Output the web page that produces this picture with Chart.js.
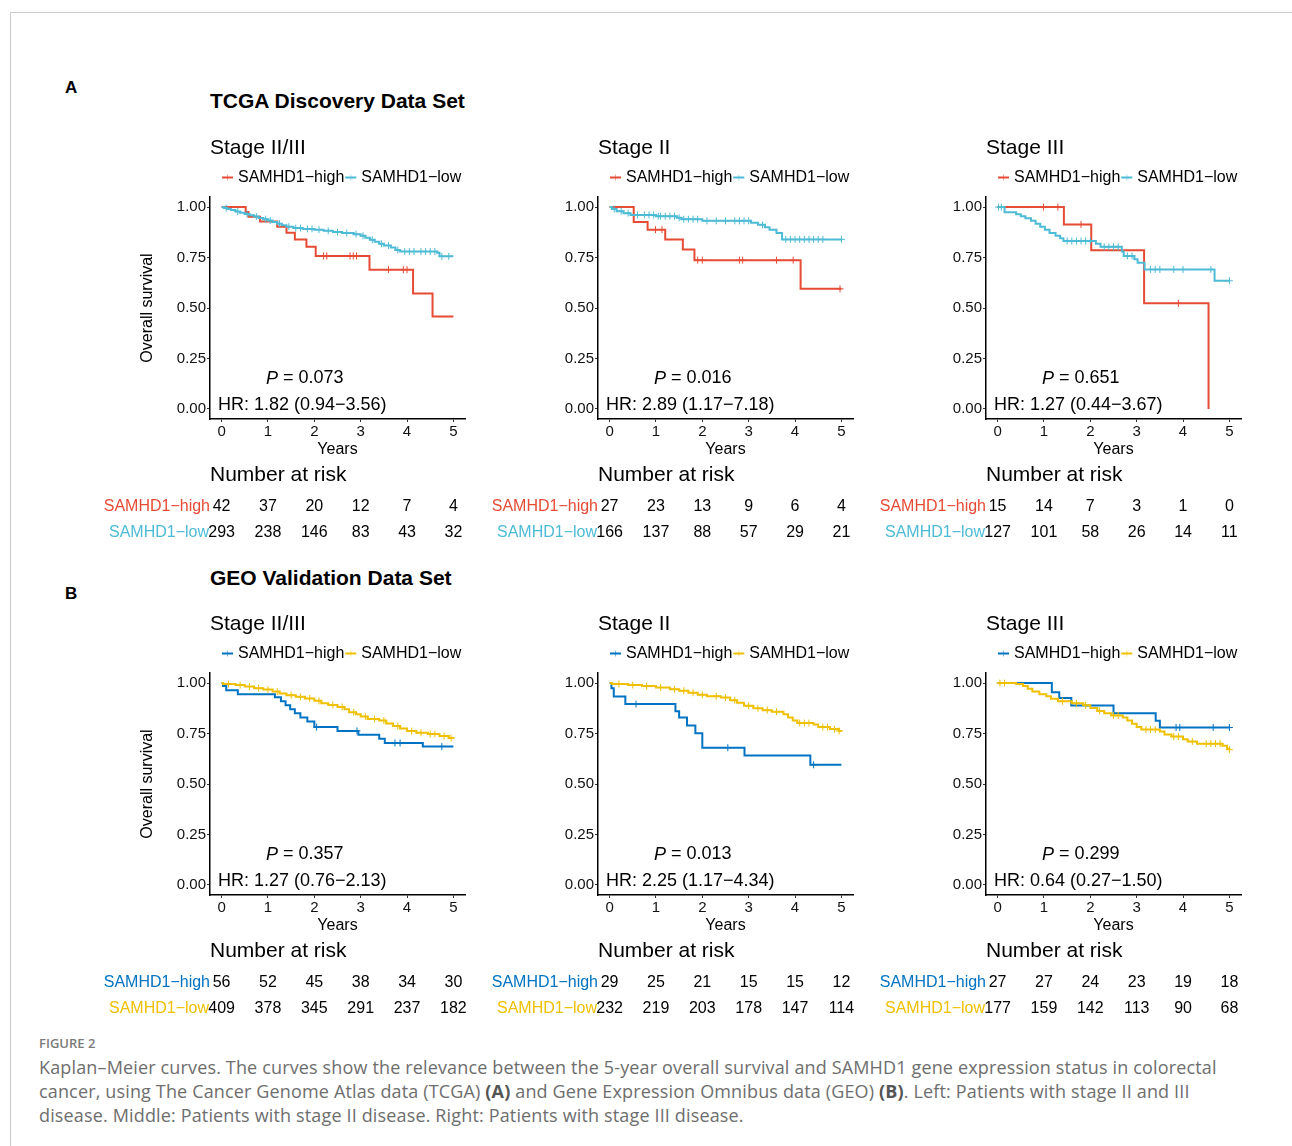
<!DOCTYPE html>
<html>
<head>
<meta charset="utf-8">
<script src="https://cdn.jsdelivr.net/npm/chart.js@4.4.1/dist/chart.umd.min.js"></script>
<style>
  body { margin: 0; background: #fff; font-family: "Liberation Sans", Arial, sans-serif; }
  #frame { position: absolute; left: 10px; top: 12px; width: 1300px; height: 1150px;
           border-left: 1px solid #ccc; border-top: 1px solid #ccc; }
  .panel { position: absolute; }
  .txt { position: absolute; white-space: nowrap; color: #000; }
  .tag { font-weight: bold; font-size: 17px; line-height: 20px; }
  .set { font-weight: bold; font-size: 21px; line-height: 24px; }
  #figno { left: 39px; top: 1035px; font-family: "Open Sans", sans-serif; font-size: 13px;
           line-height: 16px; color: #7a7a7a; font-weight: 600; }
  #caption { left: 39px; top: 1055px; font-family: "Open Sans", sans-serif; font-size: 18px;
             letter-spacing: 0.15px; line-height: 24px; color: #6e6e6e; }
  #caption b { color: #555; }
</style>
</head>
<body>
<div id="frame"></div>
<div class="txt tag" style="left:65px;top:78px">A</div>
<div class="txt set" style="left:210px;top:89px">TCGA Discovery Data Set</div>
<div class="txt tag" style="left:65px;top:584px">B</div>
<div class="txt set" style="left:210px;top:566px">GEO Validation Data Set</div>
<div class="txt" id="figno">FIGURE 2</div>
<div class="txt" id="caption">Kaplan–Meier curves. The curves show the relevance between the 5-year overall survival and SAMHD1 gene expression status in colorectal<br>cancer, using The Cancer Genome Atlas data (TCGA) <b>(A)</b> and Gene Expression Omnibus data (GEO) <b>(B)</b>. Left: Patients with stage II and III<br>disease. Middle: Patients with stage II disease. Right: Patients with stage III disease.</div>

<script>
const FONT = '"Liberation Sans", Arial, sans-serif';

// tick labels
const yearTicks = [0, 1, 2, 3, 4, 5];
const survTicks = [0, 0.25, 0.5, 0.75, 1];

// colours
const tcgaHighColor = '#E64B35';
const tcgaLowColor = '#4DBBD5';
const geoHighColor = '#0073C2';
const geoLowColor = '#EFC000';

// ---- TCGA, stage II/III ----  [years, survival]
const tcgaAllHigh = [[0,1],[0.52,0.976],[0.58,0.952],[0.83,0.928],[1.2,0.902],[1.4,0.873],[1.58,0.84],[1.83,0.803],[2.03,0.758],[3.19,0.69],[4.13,0.572],[4.55,0.458],[5,0.458]];
const tcgaAllHighCens = [2.2,2.27,2.77,2.84,2.91,3.6,3.92,4.0];
const tcgaAllLow = [[0,1],[0.05,0.995],[0.12,0.99],[0.2,0.985],[0.3,0.978],[0.4,0.972],[0.5,0.966],[0.6,0.96],[0.7,0.953],[0.8,0.946],[0.9,0.94],[1.0,0.933],[1.1,0.926],[1.2,0.918],[1.3,0.91],[1.4,0.903],[1.55,0.896],[1.75,0.892],[2.0,0.888],[2.2,0.883],[2.4,0.876],[2.6,0.872],[2.85,0.866],[3.0,0.858],[3.1,0.848],[3.2,0.838],[3.3,0.828],[3.4,0.818],[3.5,0.81],[3.65,0.8],[3.75,0.787],[3.85,0.78],[4.65,0.774],[4.7,0.756],[5,0.756]];
const tcgaAllLowCens = [0.1,0.35,0.55,0.75,0.95,1.05,1.25,1.45,1.6,1.7,1.85,1.95,2.1,2.3,2.5,2.7,2.9,3.05,3.25,3.45,3.6,3.8,3.95,4.05,4.15,4.3,4.4,4.5,4.6,4.75,4.9];
const tcgaAllRiskHigh = [42, 37, 20, 12, 7, 4];
const tcgaAllRiskLow = [293, 238, 146, 83, 43, 32];

// ---- TCGA, stage II ----
const tcgaIIHigh = [[0,1],[0.52,0.926],[0.82,0.888],[1.2,0.84],[1.58,0.79],[1.83,0.737],[4.12,0.595],[5,0.595]];
const tcgaIIHighCens = [0.99,1.13,1.9,2.0,2.8,2.87,3.6,3.96,4.97];
const tcgaIILow = [[0,1],[0.05,0.99],[0.15,0.98],[0.3,0.97],[0.45,0.961],[1.0,0.955],[1.45,0.947],[1.55,0.94],[2.0,0.932],[3.05,0.922],[3.2,0.912],[3.35,0.9],[3.45,0.888],[3.6,0.872],[3.72,0.84],[5,0.84]];
const tcgaIILowCens = [0.1,0.25,0.4,0.6,0.75,0.85,0.95,1.05,1.1,1.2,1.3,1.4,1.5,1.6,1.7,1.8,1.9,2.1,2.3,2.5,2.7,2.8,2.9,3.0,3.3,3.8,3.9,4.0,4.1,4.2,4.3,4.4,4.5,4.6,5.0];
const tcgaIIRiskHigh = [27, 23, 13, 9, 6, 4];
const tcgaIIRiskLow = [166, 137, 88, 57, 29, 21];

// ---- TCGA, stage III ----
const tcgaIIIHigh = [[0,1],[1.43,0.914],[2.02,0.786],[3.16,0.523],[4.55,0]];
const tcgaIIIHighCens = [0.99,1.3,1.8,3.9];
const tcgaIIILow = [[0,1],[0.15,0.975],[0.4,0.965],[0.5,0.955],[0.6,0.945],[0.72,0.932],[0.82,0.918],[0.92,0.903],[1.02,0.888],[1.12,0.872],[1.25,0.858],[1.35,0.845],[1.42,0.832],[2.12,0.818],[2.22,0.803],[2.68,0.78],[2.72,0.758],[2.95,0.742],[3.02,0.724],[3.17,0.691],[4.68,0.635],[5,0.635]];
const tcgaIIILowCens = [0.02,0.08,1.5,1.6,1.7,1.8,1.9,2.0,2.3,2.4,2.5,2.6,2.8,2.9,3.3,3.4,3.5,3.8,4.0,4.6,5.0];
const tcgaIIIRiskHigh = [15, 14, 7, 3, 1, 0];
const tcgaIIIRiskLow = [127, 101, 58, 26, 14, 11];

// ---- GEO, stage II/III ----
const geoAllHigh = [[0,1],[0.03,0.985],[0.1,0.965],[0.35,0.945],[1.15,0.93],[1.28,0.91],[1.38,0.89],[1.48,0.87],[1.58,0.85],[1.7,0.83],[1.85,0.81],[2.0,0.782],[2.5,0.763],[2.95,0.744],[3.4,0.724],[3.52,0.703],[4.34,0.686],[5,0.686]];
const geoAllHighCens = [2.05,2.92,3.74,3.85,4.75];
const geoAllLow = [[0,1],[0.03,0.995],[0.3,0.99],[0.5,0.983],[0.7,0.975],[0.9,0.968],[1.1,0.958],[1.25,0.948],[1.4,0.94],[1.6,0.932],[1.8,0.924],[2.0,0.912],[2.15,0.9],[2.3,0.892],[2.5,0.882],[2.65,0.87],[2.75,0.855],[2.9,0.845],[3.0,0.835],[3.15,0.822],[3.4,0.815],[3.55,0.8],[3.7,0.787],[3.85,0.775],[4.0,0.762],[4.2,0.754],[4.45,0.748],[4.7,0.738],[4.9,0.728],[5,0.725]];
const geoAllLowCens = [0.15,0.4,0.6,0.8,1.0,1.2,1.5,1.7,1.9,2.1,2.4,2.6,2.85,3.1,3.3,3.5,3.8,4.1,4.3,4.5,4.6,4.8,4.95];
const geoAllRiskHigh = [56, 52, 45, 38, 34, 30];
const geoAllRiskLow = [409, 378, 345, 291, 237, 182];

// ---- GEO, stage II ----
const geoIIHigh = [[0,1],[0.04,0.975],[0.09,0.934],[0.34,0.896],[1.42,0.86],[1.5,0.83],[1.67,0.79],[1.85,0.752],[2.0,0.68],[2.91,0.641],[4.33,0.595],[5,0.595]];
const geoIIHighCens = [0.57,2.55,4.4];
const geoIILow = [[0,1],[0.05,0.995],[0.4,0.99],[0.7,0.985],[1.0,0.978],[1.3,0.97],[1.5,0.962],[1.7,0.952],[1.9,0.942],[2.1,0.935],[2.4,0.928],[2.6,0.915],[2.75,0.902],[2.9,0.888],[3.1,0.875],[3.3,0.866],[3.5,0.858],[3.75,0.845],[3.85,0.83],[3.95,0.815],[4.05,0.802],[4.4,0.795],[4.5,0.782],[4.75,0.772],[4.95,0.763],[5,0.76]];
const geoIILowCens = [0.2,0.5,0.8,1.1,1.4,1.6,1.8,2.0,2.3,2.5,2.7,3.0,3.2,3.4,3.6,4.1,4.2,4.3,4.6,4.7,4.85,4.95];
const geoIIRiskHigh = [29, 25, 21, 15, 15, 12];
const geoIIRiskLow = [232, 219, 203, 178, 147, 114];

// ---- GEO, stage III ----
const geoIIIHigh = [[0,1],[1.17,0.955],[1.33,0.926],[1.59,0.889],[2.5,0.851],[3.41,0.814],[3.5,0.78],[5,0.78]];
const geoIIIHighCens = [3.85,3.93,4.65,5.0];
const geoIIILow = [[0,1],[0.4,0.995],[0.55,0.985],[0.65,0.972],[0.75,0.958],[0.9,0.945],[1.05,0.935],[1.15,0.922],[1.3,0.91],[1.6,0.9],[1.85,0.89],[2.0,0.876],[2.15,0.862],[2.3,0.85],[2.45,0.84],[2.7,0.83],[2.8,0.815],[2.9,0.798],[3.0,0.782],[3.1,0.77],[3.5,0.76],[3.6,0.745],[3.75,0.735],[4.0,0.722],[4.1,0.71],[4.3,0.7],[4.85,0.69],[4.95,0.675],[5,0.67]];
const geoIIILowCens = [0.05,0.15,1.4,1.7,1.9,2.2,2.5,2.6,3.2,3.3,3.4,3.8,3.9,4.2,4.5,4.6,4.7,4.8,5.0];
const geoIIIRiskHigh = [27, 27, 24, 23, 19, 18];
const geoIIIRiskLow = [177, 159, 142, 113, 90, 68];

const panels = [
  { left: 95,  top: 128, title: 'Stage II/III', ylab: true,  hi: tcgaAllHigh, hiC: tcgaAllHighCens, lo: tcgaAllLow, loC: tcgaAllLowCens, rHi: tcgaAllRiskHigh, rLo: tcgaAllRiskLow, c1: tcgaHighColor, c2: tcgaLowColor, p: '0.073', hr: 'HR: 1.82 (0.94−3.56)' },
  { left: 483, top: 128, title: 'Stage II',     ylab: false, hi: tcgaIIHigh, hiC: tcgaIIHighCens, lo: tcgaIILow, loC: tcgaIILowCens, rHi: tcgaIIRiskHigh, rLo: tcgaIIRiskLow, c1: tcgaHighColor, c2: tcgaLowColor, p: '0.016', hr: 'HR: 2.89 (1.17−7.18)' },
  { left: 871, top: 128, title: 'Stage III',    ylab: false, hi: tcgaIIIHigh, hiC: tcgaIIIHighCens, lo: tcgaIIILow, loC: tcgaIIILowCens, rHi: tcgaIIIRiskHigh, rLo: tcgaIIIRiskLow, c1: tcgaHighColor, c2: tcgaLowColor, p: '0.651', hr: 'HR: 1.27 (0.44−3.67)' },
  { left: 95,  top: 604, title: 'Stage II/III', ylab: true,  hi: geoAllHigh, hiC: geoAllHighCens, lo: geoAllLow, loC: geoAllLowCens, rHi: geoAllRiskHigh, rLo: geoAllRiskLow, c1: geoHighColor, c2: geoLowColor, p: '0.357', hr: 'HR: 1.27 (0.76−2.13)' },
  { left: 483, top: 604, title: 'Stage II',     ylab: false, hi: geoIIHigh, hiC: geoIIHighCens, lo: geoIILow, loC: geoIILowCens, rHi: geoIIRiskHigh, rLo: geoIIRiskLow, c1: geoHighColor, c2: geoLowColor, p: '0.013', hr: 'HR: 2.25 (1.17−4.34)' },
  { left: 871, top: 604, title: 'Stage III',    ylab: false, hi: geoIIIHigh, hiC: geoIIIHighCens, lo: geoIIILow, loC: geoIIILowCens, rHi: geoIIIRiskHigh, rLo: geoIIIRiskLow, c1: geoHighColor, c2: geoLowColor, p: '0.299', hr: 'HR: 0.64 (0.27−1.50)' }
];

// survival value of a step curve at time t (for placing censor marks)
function survAt(curve, t) {
  let s = curve[0][1];
  for (const [x, y] of curve) { if (x <= t) s = y; }
  return s;
}

const kmText = {
  id: 'kmText',
  afterDraw(chart, args, o) {
    const ctx = chart.ctx;
    const a = chart.chartArea;
    const xs = chart.scales.x;
    ctx.save();
    ctx.fillStyle = '#000';
    ctx.textBaseline = 'middle';

    ctx.font = '21px ' + FONT;
    ctx.textAlign = 'left';
    ctx.fillText(o.title, a.left, 20.5);

    // legend
    ctx.font = '16px ' + FONT;
    let x = a.left + 12;
    const drawKey = (col, label) => {
      ctx.strokeStyle = col;
      ctx.lineWidth = 2;
      ctx.beginPath(); ctx.moveTo(x, 49.5); ctx.lineTo(x + 11, 49.5); ctx.stroke();
      ctx.lineWidth = 1;
      ctx.globalAlpha = 0.5;
      ctx.beginPath(); ctx.moveTo(x + 5.5, 46.5); ctx.lineTo(x + 5.5, 52.5); ctx.stroke();
      ctx.globalAlpha = 1;
      ctx.fillStyle = '#000';
      ctx.fillText(label, x + 16, 49.5);
      x = x + 16 + ctx.measureText(label).width + 1;
    };
    drawKey(o.c1, 'SAMHD1−high');
    drawKey(o.c2, 'SAMHD1−low');

    // axis titles
    ctx.textAlign = 'center';
    ctx.fillText('Years', (a.left + a.right) / 2, 322);
    if (o.ylab) {
      ctx.save();
      ctx.translate(53, (a.top + a.bottom) / 2);
      ctx.rotate(-Math.PI / 2);
      ctx.fillText('Overall survival', 0, 0);
      ctx.restore();
    }

    // P and HR
    ctx.textAlign = 'left';
    ctx.font = 'italic 18px ' + FONT;
    ctx.fillText('P', a.left + 56, 250.5);
    const pw = ctx.measureText('P').width;
    ctx.font = '18px ' + FONT;
    ctx.fillText(' = ' + o.p, a.left + 56 + pw, 250.5);
    ctx.fillText(o.hr, a.left + 8, 277.5);

    // number at risk
    ctx.font = '21px ' + FONT;
    ctx.fillText('Number at risk', a.left, 347);
    ctx.font = '16px ' + FONT;
    ctx.textAlign = 'right';
    ctx.fillStyle = o.c1;
    ctx.fillText('SAMHD1−high', a.left, 378.5);
    ctx.fillStyle = o.c2;
    ctx.fillText('SAMHD1−low', a.left - 1, 404.5);
    ctx.fillStyle = '#000';
    ctx.textAlign = 'center';
    yearTicks.forEach((yr, i) => {
      const px = xs.getPixelForValue(yr);
      ctx.fillText(String(o.rHi[i]), px, 378.5);
      ctx.fillText(String(o.rLo[i]), px, 404.5);
    });
    ctx.restore();
  }
};

function makeChart(p) {
  const wrap = document.createElement('div');
  wrap.className = 'panel';
  wrap.style.left = p.left + 'px';
  wrap.style.top = p.top + 'px';
  const cv = document.createElement('canvas');
  cv.width = 385; cv.height = 420;
  cv.style.width = '385px'; cv.style.height = '420px';
  wrap.appendChild(cv);
  document.body.appendChild(wrap);

  const line = (curve, col) => ({
    type: 'line', data: curve.map(([x, y]) => ({ x, y })),
    borderColor: col, borderWidth: 2, stepped: true, pointRadius: 0, fill: false
  });
  const cens = (times, curve, col) => ({
    type: 'line', showLine: false, data: times.map(t => ({ x: t, y: survAt(curve, t) })),
    pointStyle: 'cross', pointRadius: 3.5, pointBorderWidth: 1, pointBorderColor: col,
    borderColor: col, pointHoverRadius: 0
  });

  new Chart(cv.getContext('2d'), {
    type: 'line',
    data: {
      datasets: [
        line(p.lo, p.c2), cens(p.loC, p.lo, p.c2),
        line(p.hi, p.c1), cens(p.hiC, p.hi, p.c1)
      ]
    },
    options: {
      responsive: false,
      animation: false,
      events: [],
      layout: { padding: { left: 0, right: 15, top: 69, bottom: 0 } },
      plugins: {
        legend: { display: false },
        tooltip: { enabled: false },
        kmText: { title: p.title, ylab: p.ylab, c1: p.c1, c2: p.c2, p: p.p, hr: p.hr, rHi: p.rHi, rLo: p.rLo }
      },
      scales: {
        x: {
          type: 'linear', min: -0.25, max: 5.25,
          afterFit(s) { s.height = 129; },
          afterBuildTicks(s) { s.ticks = yearTicks.map(v => ({ value: v })); },
          grid: { drawOnChartArea: false, drawTicks: true, tickLength: 3, color: '#333' },
          border: { display: true, color: '#000', width: 1.5 },
          ticks: { font: { size: 15, family: FONT }, color: '#111', padding: 1, maxRotation: 0, callback: v => String(v) }
        },
        y: {
          min: -0.05, max: 1.05,
          afterFit(s) { s.width = 115; },
          afterBuildTicks(s) { s.ticks = survTicks.map(v => ({ value: v })); },
          grid: { drawOnChartArea: false, drawTicks: true, tickLength: 3, color: '#333' },
          border: { display: true, color: '#000', width: 1.5 },
          ticks: { font: { size: 15, family: FONT }, color: '#111', padding: 1, callback: v => Number(v).toFixed(2) }
        }
      }
    },
    plugins: [kmText]
  });
}

panels.forEach(makeChart);
</script>
</body>
</html>
